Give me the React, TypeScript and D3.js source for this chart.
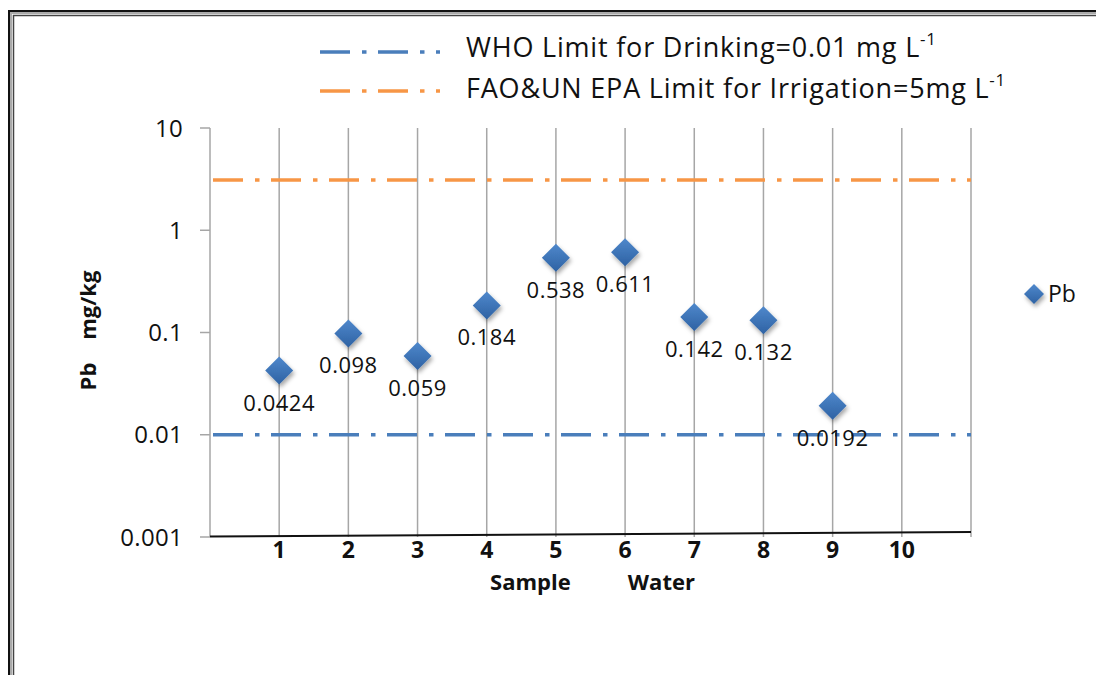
import { useEffect } from "react";
import * as d3 from "d3";

// samples along the x axis and Pb readings (mg/kg)
const samples = [1, 2, 3, 4, 5, 6, 7, 8, 9];
const pbValues = [0.0424, 0.098, 0.059, 0.184, 0.538, 0.611, 0.142, 0.132, 0.0192];
const pbLabels = ["0.0424", "0.098", "0.059", "0.184", "0.538", "0.611", "0.142", "0.132", "0.0192"];
const xTicks = [1, 2, 3, 4, 5, 6, 7, 8, 9, 10];
const gridAt = [1, 2, 3, 4, 5, 6, 7, 8, 9, 10, 11];
const yTicks = [0.001, 0.01, 0.1, 1, 10];
const yTickLabels = ["0.001", "0.01", "0.1", "1", "10"];

// limit lines, as drawn in the picture
const whoLimit = 0.01;
const faoLimit = 3.1;

const width = 1096;
const height = 675;
const font = "'Open Sans', sans-serif";
const ink = "#111";
const blue = "#4a7ebb";
const orange = "#f79646";
const dash = "30 12 4.5 11.5";

export default function App() {
    useEffect(() => {
        document.body.style.margin = "0";
    }, []);

    const margin = { top: 128, right: 125, bottom: 138, left: 210 };
    const x = d3
        .scaleLinear()
        .domain([0, 11])
        .range([margin.left, width - margin.right]);
    const y = d3
        .scaleLog()
        .domain([0.001, 10])
        .range([height - margin.bottom, margin.top]);

    const x0 = x(0);
    const x1 = x(11);
    const yBottom = y(0.001);
    const yTop = y(10);

    const diamond = (cx: number, cy: number, r: number) =>
        `M${cx},${cy - r}L${cx + r},${cy}L${cx},${cy + r}L${cx - r},${cy}Z`;

    return (
        <svg width={width} height={height} style={{ display: "block", background: "#fff" }}>
            <defs>
                <linearGradient id="dgrad" x1="0" y1="0" x2="0" y2="1">
                    <stop offset="0%" stopColor="#4f88cc" />
                    <stop offset="100%" stopColor="#2e62a3" />
                </linearGradient>
                <filter id="shadow" x="-50%" y="-50%" width="200%" height="200%">
                    <feDropShadow dx="1.5" dy="3" stdDeviation="2" floodColor="#000" floodOpacity="0.35" />
                </filter>
            </defs>

            {/* outer frame */}
            <rect x={9} y={11} width={width + 20} height={height + 20} fill="none" stroke="#111" strokeWidth={2} />
            <rect x={11} y={13} width={width + 20} height={height + 20} fill="none" stroke="#aaa" strokeWidth={2} />
            <rect x={13.5} y={15.5} width={width + 20} height={height + 20} fill="none" stroke="#444" strokeWidth={1.5} />

            {/* vertical grid */}
            {gridAt.map((g) => (
                <line key={g} x1={x(g)} x2={x(g)} y1={yTop} y2={yBottom} stroke="#a6a6a6" strokeWidth={1.5} />
            ))}

            {/* y axis */}
            <line x1={x0} x2={x0} y1={yTop} y2={yBottom} stroke="#a6a6a6" strokeWidth={1.5} />
            {yTicks.map((t, i) => (
                <g key={t}>
                    <line x1={x0 - 10} x2={x0} y1={y(t)} y2={y(t)} stroke="#a6a6a6" strokeWidth={1.5} />
                    <text
                        x={x0 - 27}
                        y={y(t)}
                        dy="0.36em"
                        textAnchor="end"
                        fontFamily={font}
                        fontSize={24}
                        letterSpacing={0.3}
                        fill={ink}
                    >
                        {yTickLabels[i]}
                    </text>
                </g>
            ))}

            {/* bottom axis line */}
            <line x1={x0} x2={x1} y1={yBottom - 0.5} y2={yBottom - 5} stroke="#111" strokeWidth={2} />

            {/* x tick labels */}
            {xTicks.map((t) => (
                <text
                    key={t}
                    x={x(t)}
                    y={yBottom + 21}
                    textAnchor="middle"
                    fontFamily={font}
                    fontWeight="bold"
                    fontSize={23}
                    fill={ink}
                >
                    {t}
                </text>
            ))}

            {/* limit lines */}
            <line x1={x0 + 3} x2={x1} y1={y(faoLimit)} y2={y(faoLimit)} stroke={orange} strokeWidth={3.5} strokeDasharray={dash} />
            <line x1={x0 + 3} x2={x1} y1={y(whoLimit)} y2={y(whoLimit)} stroke={blue} strokeWidth={3.5} strokeDasharray={dash} />

            {/* points */}
            {samples.map((s, i) => (
                <path key={s} d={diamond(x(s), y(pbValues[i]), 14)} fill="url(#dgrad)" filter="url(#shadow)" />
            ))}
            {samples.map((s, i) => (
                <text
                    key={s}
                    x={x(s)}
                    y={y(pbValues[i]) + 32}
                    dy="0.36em"
                    textAnchor="middle"
                    fontFamily={font}
                    fontSize={22}
                    letterSpacing={0.5}
                    fill={ink}
                >
                    {pbLabels[i]}
                </text>
            ))}

            {/* axis titles */}
            <text
                x={(x0 + x1) / 2 + 2}
                y={yBottom + 53}
                textAnchor="middle"
                fontFamily={font}
                fontWeight="bold"
                fontSize={22}
                fill={ink}
                style={{ whiteSpace: "pre" }}
            >
                {"Sample          Water"}
            </text>
            <text
                transform={`translate(96,${(yTop + yBottom) / 2 - 2}) rotate(-90)`}
                textAnchor="middle"
                fontFamily={font}
                fontWeight="bold"
                fontSize={22}
                fill={ink}
                style={{ whiteSpace: "pre" }}
            >
                {"Pb    mg/kg"}
            </text>

            {/* top legend */}
            <line x1={320} x2={440} y1={52} y2={52} stroke={blue} strokeWidth={3.5} strokeDasharray={dash} />
            <line x1={320} x2={440} y1={91} y2={91} stroke={orange} strokeWidth={3.5} strokeDasharray={dash} />
            <text x={466} y={47} dy="0.36em" fontFamily={font} fontSize={27} letterSpacing={0.8} fill={ink}>
                WHO Limit for Drinking=0.01 mg L
                <tspan fontSize={17} dy={-12}>-1</tspan>
            </text>
            <text x={466} y={88} dy="0.36em" fontFamily={font} fontSize={27} letterSpacing={0.8} fill={ink}>
                FAO&amp;UN EPA Limit for Irrigation=5mg L
                <tspan fontSize={17} dy={-12}>-1</tspan>
            </text>

            {/* side legend */}
            <path d={diamond(1034, 294, 10)} fill="url(#dgrad)" filter="url(#shadow)" />
            <text x={1048} y={294} dy="0.36em" fontFamily={font} fontSize={23} fill={ink}>
                Pb
            </text>
        </svg>
    );
}
